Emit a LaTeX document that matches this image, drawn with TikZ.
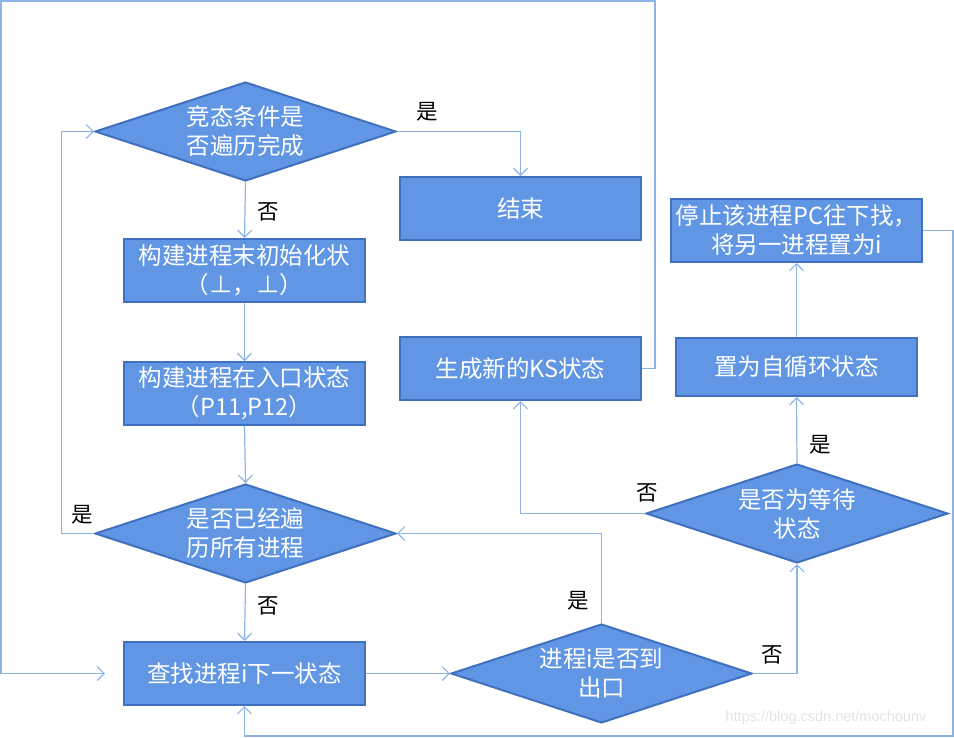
\documentclass[tikz,border=0pt]{standalone}
\usepackage{fontspec}
\setmainfont{Noto Sans CJK SC}
\newfontfamily\urlfont{Liberation Sans}
\definecolor{box-blue}{RGB}{96,150,228}
\definecolor{edge-blue}{RGB}{65,113,190}
\definecolor{line-blue}{RGB}{142,180,230}
\usetikzlibrary{arrows.meta}
\usetikzlibrary{shapes.geometric}

\begin{document}
\begin{tikzpicture}[%
            x=1pt,y=-1pt,
            >={Straight Barb[length=7pt,width=14pt]},
            box/.style={draw=edge-blue,line width=2pt,fill=box-blue,text=white,
              minimum width=241pt,minimum height=63pt,inner sep=0pt,align=center,
              font=\fontsize{23.5}{29}\selectfont},
            decision/.style={box,diamond,aspect=3,minimum width=301pt,minimum height=99pt},
            flow/.style={->,draw=line-blue,line width=1.2pt},
            answer/.style={font=\fontsize{21.5}{25}\selectfont}
          ]
            \useasboundingbox (0,0) rectangle (954,737);

            % left column
            \node [decision] (race) at (245.5,131.5) {竞态条件是\\否遍历完成};
            \node [box] (init) at (244.5,270.5) {构建进程末初始化状\\（⊥，⊥）};
            \node [box] (entry) at (244.5,393.5) {构建进程在入口状态\\（P11,P12）};
            \node [decision] (allvisited) at (245.5,533.5) {是否已经遍\\历所有进程};
            \node [box] (findnext) at (244.5,673.5) {查找进程i下一状态};

            % middle and right
            \node [box] (finish) at (520.5,208.5) {结束};
            \node [box] (newks) at (520.5,368.5) {生成新的KS状态};
            \node [decision] (atexit) at (601.5,673.5) {进程i是否到\\出口};
            \node [decision,minimum width=302pt] (waiting) at (797,513.5) {是否为等待\\状态};
            \node [box,minimum height=58pt] (selfloop) at (796.5,367) {置为自循环状态};
            \node [box,minimum width=251pt,inner sep=2pt] (stoppc) at (796.5,230.5) {停止该进程PC往下找，\\将另一进程置为i};

            \node [answer] (race-yes) at (427,112) {是};
            \node [answer] (race-no) at (268,212) {否};
            \node [answer] (all-yes) at (82,515) {是};
            \node [answer] (all-no) at (268,606) {否};
            \node [answer] (exit-yes) at (578,601) {是};
            \node [answer] (exit-no) at (772,655) {否};
            \node [answer] (wait-no) at (647,493) {否};
            \node [answer] (wait-yes) at (820,445) {是};

            \node [text=gray!22,font=\urlfont\fontsize{14.5}{18}\selectfont] (mark) at (826,718) {https://blog.csdn.net/mochounv};

            \draw [flow] (race.east) -| (finish.north);
            \draw [flow] (race.south) -- (init.north);
            \draw [flow] (init.south) -- (entry.north);
            \draw [flow] (entry.south) -- (allvisited.north);
            \draw [flow] (allvisited.west) -- ++(-32.5,0) |- (race.west);
            \draw [flow] (allvisited.south) -- (findnext.north);
            \draw [flow] (findnext.east) -- (atexit.west);
            \draw [flow] (atexit.north) |- (allvisited.east);
            \draw [flow] (atexit.east) -| (waiting.south);
            \draw [flow] (waiting.west) -| (newks.south);
            \draw [flow] (waiting.north) -- (selfloop.south);
            \draw [flow] (selfloop.north) -- (stoppc.south);
            \draw [flow,shorten >=18pt] (newks.east) -| (655,1) -| (1,673.5) -- (findnext.west);
            \draw [flow] (stoppc.east) -| (953,736) -| (findnext.south);
          \end{tikzpicture}
\end{document}
